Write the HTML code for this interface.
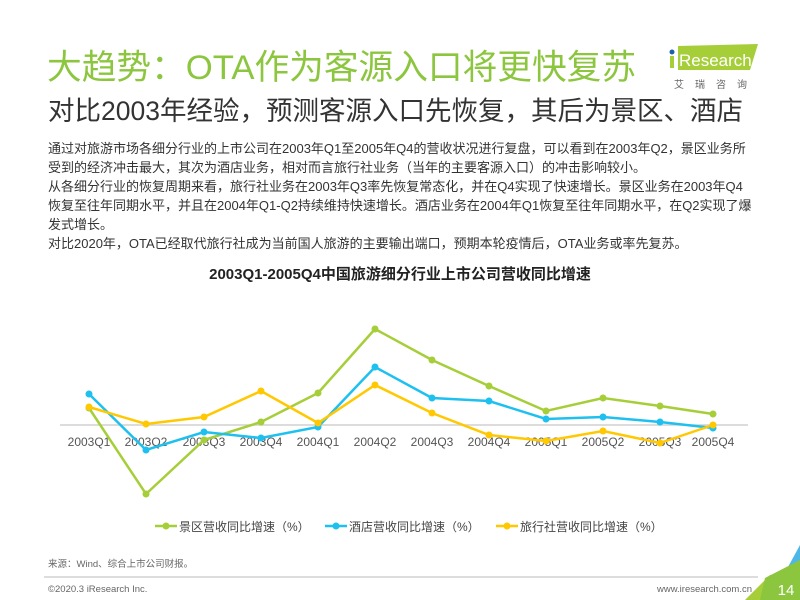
<!DOCTYPE html>
<html><head><meta charset="utf-8"><style>
body{margin:0;width:800px;height:600px;background:#fff;overflow:hidden;position:relative;font-family:"Liberation Sans","Noto Sans CJK SC",sans-serif}
.t{position:absolute;white-space:nowrap}
</style></head><body>
<div class="t" style="left:47px;top:46px;font-size:34.7px;color:#8cc63f;line-height:44px">大趋势：OTA作为客源入口将更快复苏</div>
<div class="t" style="left:48px;top:94px;font-size:26.5px;color:#333;line-height:34px">对比2003年经验，预测客源入口先恢复，其后为景区、酒店</div>
<svg style="position:absolute;left:660px;top:40px" width="100" height="52">
<polygon points="18,6 98,4 90,30 18,30" fill="#a6ce39"/>
<circle cx="12" cy="12" r="2.5" fill="#1f5fa8"/>
<rect x="10" y="16" width="4" height="12" fill="#a6ce39"/>
<text x="19" y="26" font-size="17" fill="#fff" font-family="Liberation Sans">Research</text>
<text x="14" y="48" font-size="10" fill="#666" letter-spacing="11" font-family="Noto Sans CJK SC">艾瑞咨询</text>
</svg>
<div class="t" style="left:48px;top:139px;font-size:13px;color:#333;line-height:19px;white-space:normal;width:706px">通过对旅游市场各细分行业的上市公司在2003年Q1至2005年Q4的营收状况进行复盘，可以看到在2003年Q2，景区业务所受到的经济冲击最大，其次为酒店业务，相对而言旅行社业务（当年的主要客源入口）的冲击影响较小。<br>从各细分行业的恢复周期来看，旅行社业务在2003年Q3率先恢复常态化，并在Q4实现了快速增长。景区业务在2003年Q4恢复至往年同期水平，并且在2004年Q1-Q2持续维持快速增长。酒店业务在2004年Q1恢复至往年同期水平，在Q2实现了爆发式增长。<br>对比2020年，OTA已经取代旅行社成为当前国人旅游的主要输出端口，预期本轮疫情后，OTA业务或率先复苏。</div>
<div class="t" style="left:0;width:800px;text-align:center;top:263px;font-size:15px;font-weight:bold;color:#222">2003Q1-2005Q4中国旅游细分行业上市公司营收同比增速</div>
<svg style="position:absolute;left:0;top:0" width="800" height="600">
<line x1="60" y1="425" x2="748" y2="425" stroke="#d0d0d0" stroke-width="1.5"/>
<g font-size="12" fill="#555" text-anchor="middle" font-family="Liberation Sans">
<text x="89" y="446">2003Q1</text><text x="146" y="446">2003Q2</text><text x="204" y="446">2003Q3</text><text x="261" y="446">2003Q4</text><text x="318" y="446">2004Q1</text><text x="375" y="446">2004Q2</text><text x="432" y="446">2004Q3</text><text x="489" y="446">2004Q4</text><text x="546" y="446">2005Q1</text><text x="603" y="446">2005Q2</text><text x="660" y="446">2005Q3</text><text x="713" y="446">2005Q4</text>
</g>
<g fill="none" stroke-width="2.5">
<polyline stroke="#a6ce39" points="89,408 146,494 204,440 261,422 318,393 375,329 432,360 489,386 546,411 603,398 660,406 713,414"/>
<polyline stroke="#1ec0ef" points="89,394 146,450 204,432 261,438 318,427 375,367 432,398 489,401 546,419 603,417 660,422 713,428"/>
<polyline stroke="#ffc800" points="89,407 146,424 204,417 261,391 318,423 375,385 432,413 489,435 546,441 603,431 660,443 713,425"/>
</g>
<g fill="#a6ce39"><circle cx="89" cy="408" r="3.5"/><circle cx="146" cy="494" r="3.5"/><circle cx="204" cy="440" r="3.5"/><circle cx="261" cy="422" r="3.5"/><circle cx="318" cy="393" r="3.5"/><circle cx="375" cy="329" r="3.5"/><circle cx="432" cy="360" r="3.5"/><circle cx="489" cy="386" r="3.5"/><circle cx="546" cy="411" r="3.5"/><circle cx="603" cy="398" r="3.5"/><circle cx="660" cy="406" r="3.5"/><circle cx="713" cy="414" r="3.5"/></g>
<g fill="#1ec0ef"><circle cx="89" cy="394" r="3.5"/><circle cx="146" cy="450" r="3.5"/><circle cx="204" cy="432" r="3.5"/><circle cx="261" cy="438" r="3.5"/><circle cx="318" cy="427" r="3.5"/><circle cx="375" cy="367" r="3.5"/><circle cx="432" cy="398" r="3.5"/><circle cx="489" cy="401" r="3.5"/><circle cx="546" cy="419" r="3.5"/><circle cx="603" cy="417" r="3.5"/><circle cx="660" cy="422" r="3.5"/><circle cx="713" cy="428" r="3.5"/></g>
<g fill="#ffc800"><circle cx="89" cy="407" r="3.5"/><circle cx="146" cy="424" r="3.5"/><circle cx="204" cy="417" r="3.5"/><circle cx="261" cy="391" r="3.5"/><circle cx="318" cy="423" r="3.5"/><circle cx="375" cy="385" r="3.5"/><circle cx="432" cy="413" r="3.5"/><circle cx="489" cy="435" r="3.5"/><circle cx="546" cy="441" r="3.5"/><circle cx="603" cy="431" r="3.5"/><circle cx="660" cy="443" r="3.5"/><circle cx="713" cy="425" r="3.5"/></g>
<g stroke-width="2.5"><line x1="155" y1="526" x2="177" y2="526" stroke="#a6ce39"/><line x1="325" y1="526" x2="347" y2="526" stroke="#1ec0ef"/><line x1="496" y1="526" x2="518" y2="526" stroke="#ffc800"/></g>
<circle cx="166" cy="526" r="3.5" fill="#a6ce39"/><circle cx="336" cy="526" r="3.5" fill="#1ec0ef"/><circle cx="507" cy="526" r="3.5" fill="#ffc800"/>
<g font-size="12" fill="#444" font-family="Liberation Sans,Noto Sans CJK SC"><text x="179" y="531">景区营收同比增速（%）</text><text x="349" y="531">酒店营收同比增速（%）</text><text x="520" y="531">旅行社营收同比增速（%）</text></g>
<line x1="44" y1="577" x2="758" y2="577" stroke="#bbb" stroke-width="1"/>
<text x="48" y="567" font-size="9.5" fill="#666" font-family="Liberation Sans,Noto Sans CJK SC">来源：Wind、综合上市公司财报。</text>
<text x="48" y="592" font-size="9.5" fill="#666" font-family="Liberation Sans">©2020.3 iResearch Inc.</text>
<text x="752" y="592" font-size="9.5" fill="#666" text-anchor="end" font-family="Liberation Sans">www.iresearch.com.cn</text>
<polygon points="800,545 800,600 770,600" fill="#4db8e8"/>
<polygon points="800,570 800,600 745,600 770,575" fill="#a6ce39"/>
<polygon points="765,578 800,560 800,600 760,600" fill="#8cc63f"/>
<text x="786" y="595" font-size="15" fill="#fff" text-anchor="middle" font-family="Liberation Sans">14</text>
</svg>
</body></html>
